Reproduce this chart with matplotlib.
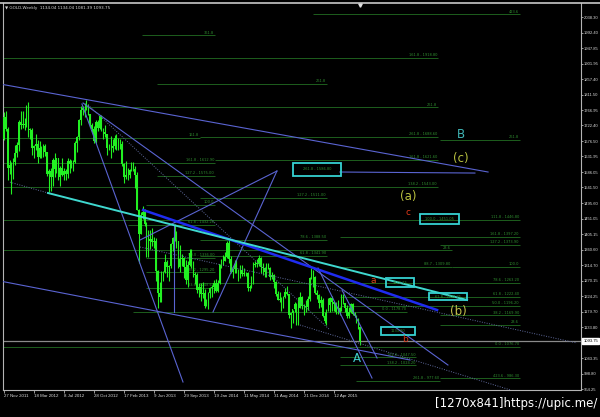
import matplotlib
matplotlib.use("Agg")
import matplotlib.pyplot as plt
import matplotlib.transforms as mtransforms
from matplotlib.patches import Rectangle
from matplotlib.lines import Line2D

# weekly GOLD bars, 27 Nov 2011 .. 19 Jul 2015
opens = [1684, 1747, 1711, 1597, 1606, 1565, 1616, 1642, 1665, 1731,
         1725, 1725, 1724, 1775, 1710, 1709, 1657, 1662, 1668, 1631,
         1658, 1643, 1663, 1644, 1581, 1591, 1571, 1623, 1595, 1628,
         1571, 1598, 1579, 1590, 1582, 1620, 1609, 1619, 1616, 1671,
         1689, 1739, 1768, 1773, 1773, 1781, 1757, 1723, 1712, 1676,
         1731, 1714, 1751, 1711, 1704, 1697, 1658, 1656, 1656, 1662,
         1687, 1658, 1667, 1667, 1609, 1573, 1577, 1577, 1592, 1608,
         1595, 1579, 1476, 1406, 1462, 1469, 1436, 1364, 1386, 1391,
         1383, 1387, 1297, 1234, 1223, 1278, 1295, 1323, 1310, 1313,
         1376, 1395, 1396, 1387, 1309, 1333, 1337, 1310, 1273, 1315,
         1352, 1315, 1287, 1287, 1244, 1251, 1230, 1235, 1196, 1212,
         1234, 1250, 1252, 1264, 1240, 1263, 1318, 1323, 1327, 1339,
         1379, 1334, 1294, 1303, 1318, 1293, 1300, 1302, 1290, 1293,
         1292, 1250, 1252, 1275, 1316, 1320, 1320, 1337, 1310, 1307,
         1294, 1310, 1306, 1280, 1286, 1267, 1230, 1215, 1218, 1192,
         1222, 1238, 1231, 1171, 1177, 1186, 1201, 1167, 1191, 1222,
         1195, 1195, 1192, 1216, 1277, 1294, 1280, 1234, 1228, 1204,
         1213, 1166, 1152, 1183, 1199, 1219, 1207, 1203, 1178, 1179,
         1189, 1225, 1205, 1190, 1168, 1180, 1201, 1173, 1168, 1158,
         1134.04]
highs = [1761, 1763, 1717, 1622, 1616, 1627, 1665, 1673, 1739, 1764,
         1763, 1745, 1782, 1792, 1715, 1714, 1666, 1697, 1680, 1678,
         1661, 1667, 1669, 1646, 1595, 1597, 1627, 1641, 1628, 1628,
         1604, 1627, 1597, 1596, 1627, 1625, 1623, 1623, 1676, 1692,
         1741, 1778, 1779, 1788, 1796, 1786, 1757, 1728, 1722, 1737,
         1737, 1754, 1754, 1716, 1724, 1698, 1669, 1693, 1683, 1694,
         1696, 1685, 1684, 1676, 1613, 1619, 1597, 1596, 1616, 1615,
         1605, 1588, 1480, 1469, 1487, 1478, 1442, 1418, 1419, 1424,
         1397, 1393, 1300, 1267, 1297, 1298, 1348, 1331, 1316, 1379,
         1396, 1434, 1414, 1387, 1374, 1347, 1338, 1330, 1326, 1361,
         1361, 1327, 1295, 1293, 1264, 1262, 1267, 1245, 1217, 1237,
         1251, 1256, 1272, 1274, 1271, 1320, 1332, 1346, 1354, 1385,
         1392, 1341, 1306, 1331, 1331, 1305, 1315, 1315, 1306, 1296,
         1295, 1258, 1285, 1325, 1328, 1332, 1345, 1340, 1322, 1311,
         1322, 1322, 1310, 1296, 1290, 1270, 1240, 1236, 1222, 1225,
         1250, 1255, 1232, 1178, 1184, 1208, 1206, 1221, 1238, 1225,
         1202, 1213, 1224, 1282, 1307, 1300, 1285, 1242, 1231, 1224,
         1220, 1178, 1188, 1219, 1223, 1224, 1209, 1208, 1215, 1193,
         1232, 1232, 1206, 1198, 1192, 1205, 1205, 1180, 1171, 1160,
         1134.04]
lows = [1681, 1705, 1562, 1582, 1523, 1565, 1607, 1631, 1649, 1712,
        1715, 1708, 1718, 1688, 1684, 1635, 1627, 1650, 1612, 1627,
        1627, 1630, 1632, 1576, 1527, 1532, 1547, 1571, 1583, 1563,
        1547, 1576, 1562, 1564, 1570, 1583, 1597, 1591, 1614, 1644,
        1681, 1723, 1753, 1746, 1768, 1754, 1718, 1702, 1672, 1672,
        1707, 1712, 1705, 1683, 1690, 1635, 1650, 1626, 1645, 1654,
        1652, 1650, 1655, 1605, 1555, 1566, 1562, 1568, 1590, 1590,
        1539, 1475, 1321, 1405, 1449, 1428, 1339, 1339, 1362, 1371,
        1366, 1270, 1190, 1207, 1207, 1270, 1292, 1281, 1270, 1307,
        1357, 1385, 1364, 1306, 1295, 1313, 1277, 1261, 1251, 1312,
        1308, 1280, 1261, 1235, 1221, 1211, 1220, 1190, 1196, 1186,
        1220, 1223, 1235, 1238, 1238, 1261, 1307, 1317, 1327, 1335,
        1322, 1291, 1277, 1293, 1292, 1268, 1277, 1283, 1284, 1283,
        1240, 1240, 1250, 1259, 1310, 1311, 1312, 1292, 1287, 1282,
        1281, 1303, 1273, 1274, 1250, 1226, 1214, 1207, 1183, 1190,
        1219, 1228, 1161, 1131, 1146, 1180, 1142, 1142, 1190, 1187,
        1170, 1180, 1184, 1211, 1275, 1252, 1230, 1216, 1191, 1193,
        1163, 1147, 1142, 1181, 1178, 1182, 1182, 1173, 1172, 1169,
        1183, 1201, 1180, 1162, 1162, 1175, 1169, 1163, 1147, 1130,
        1081.39]
closes = [1747, 1711, 1597, 1606, 1565, 1616, 1642, 1665, 1731, 1725,
          1725, 1724, 1775, 1710, 1709, 1657, 1662, 1668, 1631, 1658,
          1643, 1663, 1644, 1581, 1591, 1571, 1623, 1595, 1628, 1571,
          1598, 1579, 1590, 1582, 1620, 1609, 1619, 1616, 1671, 1689,
          1739, 1768, 1773, 1773, 1781, 1757, 1723, 1712, 1676, 1731,
          1714, 1751, 1711, 1704, 1697, 1658, 1656, 1656, 1662, 1687,
          1658, 1667, 1667, 1609, 1573, 1577, 1577, 1592, 1608, 1595,
          1579, 1476, 1406, 1462, 1469, 1436, 1364, 1386, 1391, 1383,
          1387, 1297, 1234, 1223, 1278, 1295, 1323, 1310, 1313, 1376,
          1395, 1396, 1387, 1309, 1333, 1337, 1310, 1273, 1315, 1352,
          1315, 1287, 1287, 1244, 1251, 1230, 1235, 1196, 1212, 1234,
          1250, 1252, 1264, 1240, 1263, 1318, 1323, 1327, 1339, 1379,
          1334, 1294, 1303, 1318, 1293, 1300, 1302, 1290, 1293, 1292,
          1250, 1252, 1275, 1316, 1320, 1320, 1337, 1310, 1307, 1294,
          1310, 1306, 1280, 1286, 1267, 1230, 1215, 1218, 1192, 1222,
          1238, 1231, 1171, 1177, 1186, 1201, 1167, 1191, 1222, 1195,
          1195, 1192, 1216, 1277, 1294, 1280, 1234, 1228, 1204, 1213,
          1166, 1152, 1183, 1199, 1219, 1207, 1203, 1178, 1179, 1189,
          1225, 1205, 1190, 1168, 1180, 1201, 1173, 1168, 1158, 1132,
          1093.75]
last_price = 1093.75

date_labels = ["27 Nov 2011", "18 Mar 2012", "8 Jul 2012", "28 Oct 2012",
               "17 Feb 2013", "9 Jun 2013", "29 Sep 2013", "19 Jan 2014",
               "11 May 2014", "31 Aug 2014", "21 Dec 2014", "12 Apr 2015"]
date_bars = [0, 16, 32, 48, 64, 80, 96, 112, 128, 144, 160, 176]

price_ticks = [2038.30, 1992.40, 1947.85, 1901.95, 1857.40, 1811.50, 1766.95,
               1722.40, 1676.50, 1631.95, 1586.05, 1541.50, 1495.60, 1451.05,
               1405.15, 1360.60, 1314.70, 1270.15, 1224.25, 1179.70, 1133.80,
               1043.35, 998.80, 954.25]

# fibo levels: price, start bar, end bar, label
fib_price = [2047.0, 1985.8, 1918.8, 1843.1, 1776.0, 1685.7, 1688.6, 1679.9,
             1612.9, 1621.6, 1575.0, 1543.0, 1511.0, 1490.5, 1446.8, 1432.2,
             1397.2, 1388.5, 1373.9, 1359.3, 1341.9, 1336.0, 1309.8, 1309.8,
             1295.2, 1263.2, 1248.6, 1222.4, 1196.2, 1178.7, 1169.9, 1140.8,
             1076.7, 1047.5, 1024.2, 977.6, 986.3]
fib_start = [164.8, 73.6, -1, 81.6, -1, -1, 104.6, 232.5,
             -1, 112.6, 81.6, -1, 104.6, 76, -1, 66,
             179.2, 104.6, 232.5, -1, 104.6, 76, 179.2, 238.8,
             76, 104.6, 76, 179.2, 179.2, 69, 232.5, 232.5,
             -1, 179.2, 179.2, 188, 232.5]
fib_end = [275.2, 112.6, 231.5, 172.3, 231.5, 104.6, 231.5, 275.2,
           112.6, 231.5, 112.6, 231.5, 172.3, 112.6, 275.2, 112.6,
           275.2, 172.3, 275.2, 238.8, 172.3, 112.6, 238.8, 275.2,
           112.6, 275.2, 112.6, 275.2, 275.2, 215, 275.2, 275.2,
           275.2, 220, 220, 232.5, 275.2]
fib_labels = ["423.6", "361.8", "161.8 - 1918.80", "261.8", "261.8", "161.8",
              "261.8 - 1688.60", "261.8", "161.8 - 1612.90", "161.8 - 1621.60",
              "127.2 - 1575.00", "138.2 - 1543.00", "127.2 - 1511.00", "100.0",
              "111.8 - 1446.80", "61.8 - 1432.20", "161.8 - 1397.20",
              "78.6 - 1388.50", "127.2 - 1373.90", "23.6", "61.8 - 1341.90",
              "50.0 - 1336.00", "88.7 - 1309.80", "100.0", "38.2 - 1295.20",
              "78.6 - 1263.20", "23.6 - 1248.60", "61.8 - 1222.40",
              "50.0 - 1196.20", "0.0 - 1178.70", "38.2 - 1169.90", "23.6",
              "0.0 - 1076.70", "161.8 - 1047.50", "138.2 - 1024.20",
              "261.8 - 977.60", "423.6 - 986.30"]

# trend lines: bar0, price0, bar1, price1
trend_lines = [(-2.1, 1843.1, 258.2, 1586.6),
               (179.2, 1586.6, 251.2, 1583.6),
               (41.6, 1784.8, 95.5, 974.7),
               (42.2, 1787.7, 236.8, 1024.2),
               (-2.1, 1269.0, 216.6, 1038.8),
               (145.6, 1589.5, 72.6, 1388.5),
               (145.6, 1589.5, 111.5, 1178.7),
               (167.5, 1306.9, 196.3, 986.3),
               (180.3, 1242.8, 199.0, 1044.6),
               (90.7, 1432.2, 90.7, 1178.7)]
dotted_lines = [(44.8, 1782.3, 173.9, 1126.2),
                (72.6, 1368.1, 305.6, 1088.3),
                (157.9, 1140.8, 270.2, 951.4),
                (3.2, 1557.0, 23.5, 1525.4)]
thick_line = (74.2, 1475.9, 231.0, 1184.5)
cyan_line = (23.5, 1525.4, 247.0, 1213.6)

# cyan boxes: bar0, bar1, price top, price bottom, text
box_x0 = [154.2, 221.9, 203.8, 226.7, 201.1]
box_x1 = [179.8, 242.7, 218.7, 247.0, 219.2]
box_top = [1612.9, 1464.2, 1277.7, 1234.0, 1135.0]
box_bot = [1575.0, 1435.1, 1251.5, 1213.6, 1111.6]
box_text = ["261.8 - 1586.80", "100.0 - 1451.05", "1270.15",
            "61.8 - 1224.25", "1133.80"]

# wave labels
wave_text = ["B", "(c)", "(a)", "c", "a", "(b)", "b", "A"]
wave_bar = [243.8, 243.8, 215.5, 215.5, 196.8, 242.2, 213.9, 188.3]
wave_price = [1694.5, 1627.4, 1516.7, 1467.2, 1271.9, 1181.6, 1097.1, 1044.6]
wave_color = ["#3fb5b5", "#b9c13f", "#b9c13f", "#e0391a", "#e0461a",
              "#c6c24c", "#d0361a", "#3fcfcf"]

AXIS_FONT = ["Liberation Sans", "DejaVu Sans"]


def draw_candles(ax):
    for i in range(len(closes)):
        ax.vlines(i, lows[i], highs[i], color="#22f022", lw=0.8, zorder=3)
        lo = min(opens[i], closes[i])
        h = max(abs(closes[i] - opens[i]), 1.5)
        ax.bar(i, h, bottom=lo, width=0.85, color="#22f022", lw=0, zorder=3)


def main():
    fig = plt.figure(figsize=(6, 4.17), dpi=100, facecolor="black")
    ax = fig.add_axes([3 / 600, 27 / 417, 578 / 600, 387 / 417])
    ax.set_facecolor("black")
    ax.set_xlim(-0.5, -0.5 + 578 / 1.875)
    ax.set_ylim(951.4, 2079.1)

    for p, x0, x1, lbl in zip(fib_price, fib_start, fib_end, fib_labels):
        ax.hlines(p, x0, x1, color="#1d5e1d", lw=0.7, zorder=1)
        ax.text(x1 - 0.5, p + 1.5, lbl, color="#2f8c2f", fontsize=2.6,
                ha="right", va="bottom", zorder=1)

    ax.axhline(last_price, color="#8a8a8a", lw=0.9, zorder=2)

    for b0, p0, b1, p1 in trend_lines:
        ax.plot([b0, b1], [p0, p1], color="#5a64d2", lw=0.8, zorder=4)
    for b0, p0, b1, p1 in dotted_lines:
        ax.plot([b0, b1], [p0, p1], color="#5f6a9c", lw=0.7, ls=(0, (1, 1.5)), zorder=4)
    ax.plot(thick_line[::2], thick_line[1::2], color="#1f2cf0", lw=1.8, zorder=4)
    ax.plot(cyan_line[::2], cyan_line[1::2], color="#3fd8cf", lw=1.4, zorder=5)

    draw_candles(ax)

    for x0, x1, t, b, txt in zip(box_x0, box_x1, box_top, box_bot, box_text):
        ax.add_patch(Rectangle((x0, b), x1 - x0, t - b, fill=False,
                               ec="#36d2d2", lw=1.3, zorder=6))
        ax.text((x0 + x1) / 2, (t + b) / 2, txt, color="#2f8c2f", fontsize=2.6,
                ha="center", va="center", zorder=6)

    for txt, b, p, c in zip(wave_text, wave_bar, wave_price, wave_color):
        size = 6.5 if len(txt) == 1 and txt.islower() else 8.5
        ax.text(b, p, txt, color=c, fontsize=size, ha="center", va="center", zorder=7)

    # axes look like the terminal
    ax.spines["top"].set_visible(False)
    for s in ["left", "right", "bottom"]:
        ax.spines[s].set_color("#b4b4b4")
        ax.spines[s].set_linewidth(0.8)
    fig.add_artist(Line2D([0, 1], [414 / 417, 414 / 417], color="#c8c8c8", lw=1.2))

    ax.yaxis.tick_right()
    ax.set_yticks(price_ticks)
    ax.set_yticklabels([f"{v:.2f}" for v in price_ticks], family=AXIS_FONT)
    ax.tick_params(axis="y", colors="#b4b4b4", labelcolor="#dcdcdc",
                   labelsize=3.0, length=1.5, width=0.6, pad=0.6)
    ax.set_xticks(date_bars)
    ax.set_xticklabels(date_labels, family=AXIS_FONT)
    ax.tick_params(axis="x", colors="#b4b4b4", labelcolor="#dcdcdc",
                   labelsize=3.2, length=2, width=0.6, pad=1)
    for lbl in ax.get_xticklabels():
        lbl.set_ha("left")

    trans = mtransforms.blended_transform_factory(ax.transAxes, ax.transData)
    ax.text(1.004, last_price, f"{last_price:.2f}", transform=trans, fontsize=3.0,
            family=AXIS_FONT, color="black", va="center", ha="left",
            bbox=dict(boxstyle="square,pad=0.25", fc="white", ec="white"))

    ax.text(0.004, 0.992, "▼ GOLD,Weekly  1134.04 1134.04 1081.39 1093.75",
            transform=ax.transAxes, fontsize=3, color="#d8d8d8", va="top", ha="left")
    trans2 = mtransforms.blended_transform_factory(ax.transData, ax.transAxes)
    ax.plot(len(closes) - 1, 0.995, marker="v", ms=2.5, color="#e0e0e0",
            transform=trans2, clip_on=False)

    fig.text(597 / 600, 1 - 403 / 417, "[1270x841]https://upic.me/",
             ha="right", va="center", fontsize=8.5, color="white")

    fig.savefig("out.png", dpi=100, facecolor="black")


if __name__ == "__main__":
    main()
